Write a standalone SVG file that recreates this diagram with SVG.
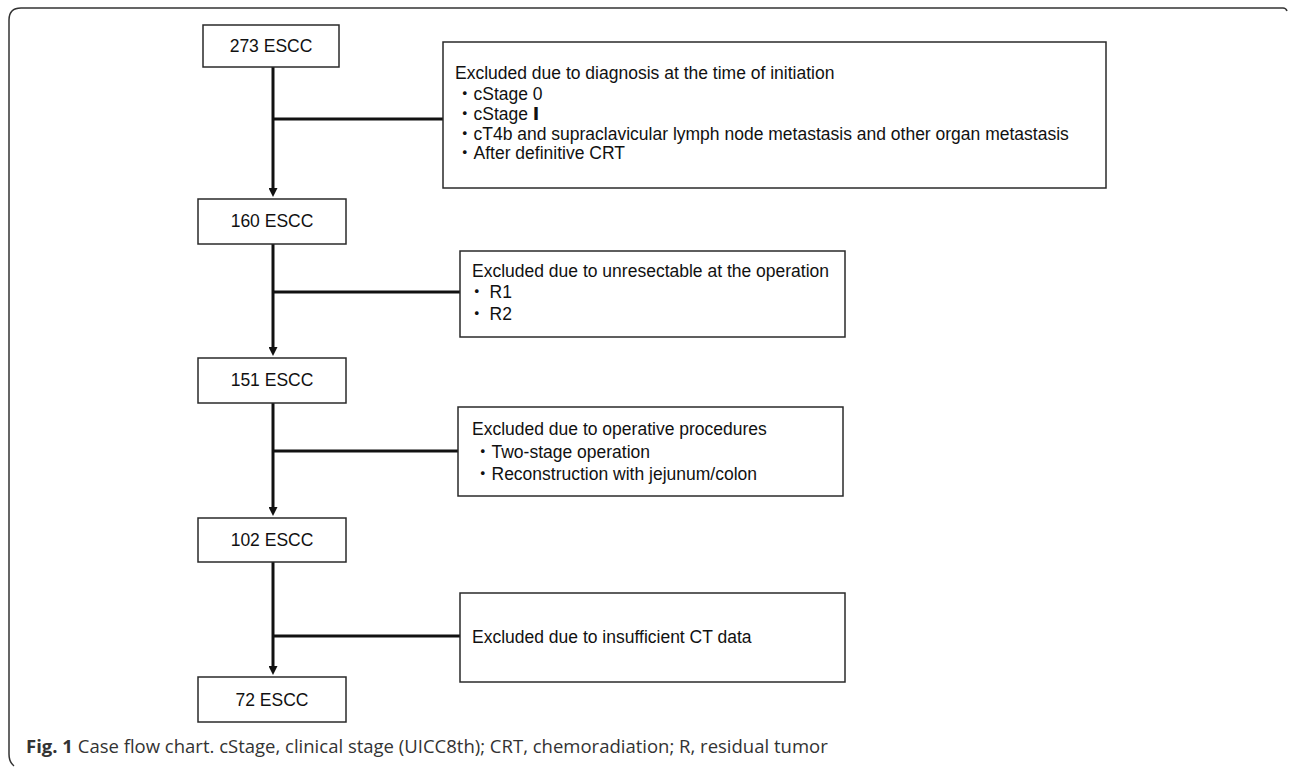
<svg xmlns="http://www.w3.org/2000/svg" width="1290" height="768" viewBox="0 0 1290 768">
<style>
.box{fill:#fff;stroke:#2a2a2a;stroke-width:1.5}
.t{font-family:"Liberation Sans","Noto Sans CJK JP",Arial,sans-serif;font-size:17.5px;fill:#111}
.c{text-anchor:middle}
.ln{stroke:#111;stroke-width:3;fill:none}
.cap{font-family:"Open Sans","Noto Sans",sans-serif;font-size:18.5px;fill:#333}
</style>
<defs>
<marker id="ah" markerWidth="9" markerHeight="9" refX="4" refY="4.5" orient="auto" markerUnits="userSpaceOnUse" viewBox="0 0 9 9">
<path d="M0,0 L9,4.5 L0,9 Z" fill="#111"/>
</marker>
</defs>
<path d="M14,766 Q9,762 9,754 L9,20 Q9,8 21,8 L1283,8 Q1286,8 1287,11" fill="none" stroke="#333" stroke-width="1.5"/>
<g id="connectors">
<line class="ln" x1="273" y1="67" x2="273" y2="192" marker-end="url(#ah)"/>
<line class="ln" x1="273" y1="119" x2="443" y2="119"/>
<line class="ln" x1="273" y1="244" x2="273" y2="351" marker-end="url(#ah)"/>
<line class="ln" x1="273" y1="292" x2="460" y2="292"/>
<line class="ln" x1="273" y1="403" x2="273" y2="511" marker-end="url(#ah)"/>
<line class="ln" x1="273" y1="451" x2="458" y2="451"/>
<line class="ln" x1="273" y1="562" x2="273" y2="670" marker-end="url(#ah)"/>
<line class="ln" x1="273" y1="636" x2="460" y2="636"/>
</g>
<g id="n273"><rect class="box" x="203" y="25" width="136" height="42"/><text class="t c" x="271" y="52">273 ESCC</text></g>
<g id="n160"><rect class="box" x="198" y="199" width="148" height="45"/><text class="t c" x="272" y="227">160 ESCC</text></g>
<g id="n151"><rect class="box" x="198" y="358" width="148" height="45"/><text class="t c" x="272" y="386">151 ESCC</text></g>
<g id="n102"><rect class="box" x="198" y="518" width="148" height="44"/><text class="t c" x="272" y="546">102 ESCC</text></g>
<g id="n72"><rect class="box" x="198" y="677" width="148" height="45"/><text class="t c" x="272" y="706">72 ESCC</text></g>
<g id="ex1"><rect class="box" x="443" y="42" width="663" height="146"/>
<text class="t" x="455" y="79">Excluded due to diagnosis at the time of initiation</text>
<text class="t" x="456" y="100">・cStage 0</text>
<text class="t" x="456" y="120">・cStage <tspan font-family="DejaVu Sans" font-weight="bold">Ⅰ</tspan></text>
<text class="t" x="456" y="140">・cT4b and supraclavicular lymph node metastasis and other organ metastasis</text>
<text class="t" x="456" y="159">・After definitive CRT</text>
</g>
<g id="ex2"><rect class="box" x="460" y="251" width="385" height="86"/>
<text class="t" x="472" y="277">Excluded due to unresectable at the operation</text>
<text class="t" x="468" y="298">・<tspan dx="4">R1</tspan></text>
<text class="t" x="468" y="320">・<tspan dx="4">R2</tspan></text>
</g>
<g id="ex3"><rect class="box" x="458" y="407" width="385" height="89"/>
<text class="t" x="472" y="435">Excluded due to operative procedures</text>
<text class="t" x="474" y="458">・Two-stage operation</text>
<text class="t" x="474" y="480">・Reconstruction with jejunum/colon</text>
</g>
<g id="ex4"><rect class="box" x="460" y="593" width="385" height="89"/>
<text class="t" x="472" y="643">Excluded due to insufficient CT data</text>
</g>
<text class="cap" x="26" y="753"><tspan font-weight="bold">Fig. 1</tspan> Case flow chart. cStage, clinical stage (UICC8th); CRT, chemoradiation; R, residual tumor</text>
</svg>
